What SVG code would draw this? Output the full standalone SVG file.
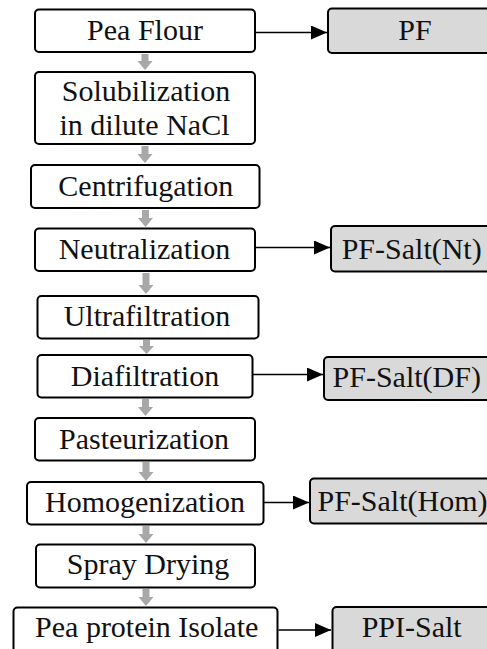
<svg xmlns="http://www.w3.org/2000/svg" width="487" height="649" viewBox="0 0 487 649">
<style>
.box{fill:#ffffff;stroke:#000000;stroke-width:2}
.out{fill:#d9d9d9;stroke:#000000;stroke-width:2}
.t{font-family:'Liberation Serif','Times New Roman',serif;font-size:30px;fill:#111111;text-anchor:middle}
.ga{fill:#a8a8a8;stroke:none}
.link{stroke:#000000;stroke-width:1.3;fill:none}
</style>
<defs>
<marker id="ah" markerWidth="16" markerHeight="14" refX="16" refY="7" orient="auto" markerUnits="userSpaceOnUse">
<path d="M0,0 L16,7 L0,14 Z" fill="#000000"/>
</marker>
</defs>
<rect width="487" height="649" fill="#ffffff"/>
<g id="connectors">
<path class="ga" d="M141.5,54 h7 v7 h4 l-7.5,9 l-7.5,-9 h4 Z"/>
<path class="ga" d="M141.5,146 h7 v8 h4 l-7.5,9 l-7.5,-9 h4 Z"/>
<path class="ga" d="M142,210 h7 v8 h4 l-7.5,9 l-7.5,-9 h4 Z"/>
<path class="ga" d="M142.5,273 h7 v12 h4 l-7.5,9 l-7.5,-9 h4 Z"/>
<path class="ga" d="M143,340 h7 v6 h4 l-7.5,8 l-7.5,-8 h4 Z"/>
<path class="ga" d="M142,399 h7 v8 h4 l-7.5,9 l-7.5,-9 h4 Z"/>
<path class="ga" d="M142.5,462 h7 v10 h4 l-7.5,9 l-7.5,-9 h4 Z"/>
<path class="ga" d="M142.5,526 h7 v8 h4 l-7.5,9 l-7.5,-9 h4 Z"/>
<path class="ga" d="M142.5,589 h7 v8 h4 l-7.5,9 l-7.5,-9 h4 Z"/>
<line class="link" x1="256" y1="32.5" x2="327" y2="32.5" marker-end="url(#ah)"/>
<line class="link" x1="256" y1="247.5" x2="330" y2="247.5" marker-end="url(#ah)"/>
<line class="link" x1="253" y1="374.5" x2="323" y2="374.5" marker-end="url(#ah)"/>
<line class="link" x1="264" y1="502.5" x2="309" y2="502.5" marker-end="url(#ah)"/>
<line class="link" x1="278.5" y1="630" x2="331" y2="630" marker-end="url(#ah)"/>
</g>
<g id="pea-flour"><rect class="box" x="35" y="9.5" width="220" height="42.5" rx="4"/><text class="t" x="145" y="39.5">Pea Flour</text></g>
<g id="pf"><rect class="out" x="328" y="8.5" width="175" height="44.5" rx="4"/><text class="t" x="415" y="39.5">PF</text></g>
<g id="solubilization"><rect class="box" x="35" y="72" width="220" height="72" rx="4"/><text class="t" x="146" y="101">Solubilization</text><text class="t" x="144.5" y="134.5">in dilute NaCl</text></g>
<g id="centrifugation"><rect class="box" x="31" y="165" width="228.5" height="43" rx="4"/><text class="t" x="145.8" y="195.5">Centrifugation</text></g>
<g id="neutralization"><rect class="box" x="35" y="228.5" width="220" height="42.5" rx="4"/><text class="t" x="144.5" y="259">Neutralization</text></g>
<g id="pf-salt-nt"><rect class="out" x="331" y="226" width="172" height="45.5" rx="4"/><text class="t" x="411.7" y="259">PF-Salt(Nt)</text></g>
<g id="ultrafiltration"><rect class="box" x="37.5" y="296" width="221" height="42.5" rx="4"/><text class="t" x="147" y="326">Ultrafiltration</text></g>
<g id="diafiltration"><rect class="box" x="37.5" y="355" width="215" height="42.5" rx="4"/><text class="t" x="145" y="385.5">Diafiltration</text></g>
<g id="pf-salt-df"><rect class="out" x="324" y="357" width="180" height="43" rx="4"/><text class="t" x="406.7" y="387">PF-Salt(DF)</text></g>
<g id="pasteurization"><rect class="box" x="35" y="418" width="220" height="42.5" rx="4"/><text class="t" x="144" y="448.5">Pasteurization</text></g>
<g id="homogenization"><rect class="box" x="27" y="482" width="236.5" height="42.5" rx="4"/><text class="t" x="145" y="511.5">Homogenization</text></g>
<g id="pf-salt-hom"><rect class="out" x="310" y="478.5" width="195" height="45" rx="4"/><text class="t" x="402.5" y="511">PF-Salt(Hom)</text></g>
<g id="spray-drying"><rect class="box" x="36" y="544.5" width="219" height="43" rx="4"/><text class="t" x="148" y="574">Spray Drying</text></g>
<g id="pea-protein-isolate"><rect class="box" x="13.5" y="607.5" width="264" height="50" rx="4"/><text class="t" x="146.7" y="637">Pea protein Isolate</text></g>
<g id="ppi-salt"><rect class="out" x="332.5" y="607" width="170" height="50" rx="4"/><text class="t" x="411.7" y="637">PPI-Salt</text></g>
</svg>
